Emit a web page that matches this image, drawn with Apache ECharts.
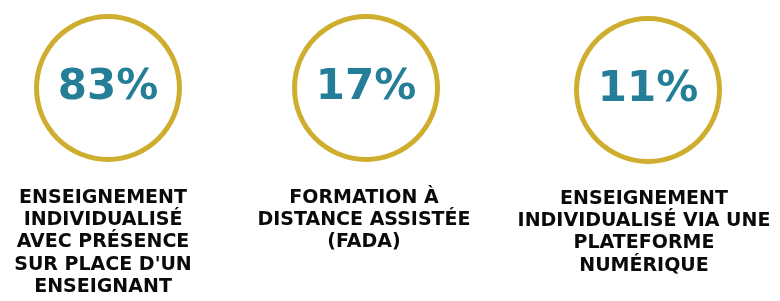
<!DOCTYPE html>
<html lang="fr">
<head>
    <meta charset="UTF-8">
    <title>echarts</title>
    <script src="https://cdn.jsdelivr.net/npm/echarts@6/dist/echarts.min.js"></script>
    <style>
        html, body { margin: 0; padding: 0; background: #fff; }
        #myChart { width: 780px; height: 301px; }
    </style>
</head>
<body>
<div id="myChart"></div>
<script type="text/javascript">
    // données
    var values = [83, 17, 11];
    var labels = [
        "ENSEIGNEMENT\nINDIVIDUALISÉ\nAVEC PRÉSENCE\nSUR PLACE D'UN\nENSEIGNANT",
        "FORMATION À\nDISTANCE ASSISTÉE\n(FADA)",
        "ENSEIGNEMENT\nINDIVIDUALISÉ VIA UNE\nPLATEFORME\nNUMÉRIQUE"
    ];

    var centers = [[108, 88], [366, 88], [648, 90]];
    var labelX = [103, 364, 644];
    var labelTop = [187, 187, 188];

    var gold = '#CFAE2F';
    var teal = '#247E97';

    var series = [];
    var titles = [];
    for (var i = 0; i < values.length; i++) {
        series.push({
            type: 'pie',
            center: centers[i],
            radius: [69, 74],
            silent: true,
            itemStyle: { color: gold, borderWidth: 0 },
            label: {
                show: true,
                position: 'center',
                formatter: '{c}%',
                color: teal,
                fontFamily: 'DejaVu Sans',
                fontWeight: 'bold',
                fontSize: 42
            },
            labelLine: { show: false },
            data: [{ value: values[i], name: labels[i] }]
        });
        titles.push({
            text: labels[i],
            left: labelX[i],
            top: labelTop[i],
            textAlign: 'center',
            padding: 0,
            textStyle: {
                color: '#0a0a0a',
                fontFamily: 'DejaVu Sans',
                fontWeight: 'bold',
                fontSize: 19,
                lineHeight: 22.2
            }
        });
    }

    var myChart = echarts.init(document.getElementById('myChart'));
    myChart.setOption({
        animation: false,
        title: titles,
        series: series
    });
</script>
</body>
</html>
